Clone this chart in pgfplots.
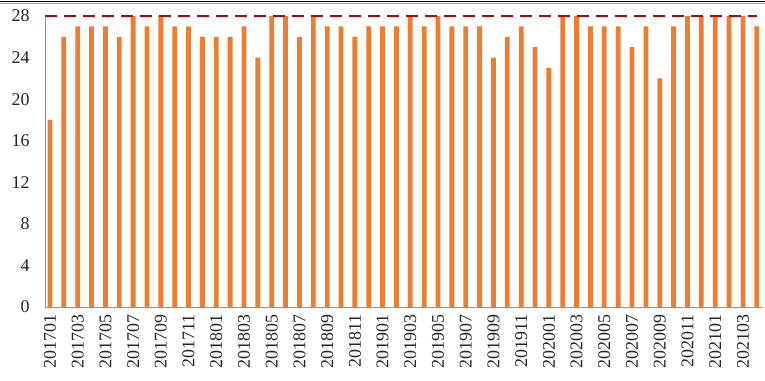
\documentclass[border=0pt]{standalone}
\usepackage{fontspec}
\setmainfont{Liberation Serif}
\usepackage{pgfplots}
\pgfplotsset{compat=1.18}
\usepackage{pgfplotstable}
\definecolor{barorange}{HTML}{ED7D31}
\definecolor{dashred}{HTML}{C00000}
\pgfplotstableread{
x y
0 18
1 26
2 27
3 27
4 27
5 26
6 28
7 27
8 28
9 27
10 27
11 26
12 26
13 26
14 27
15 24
16 28
17 28
18 26
19 28
20 27
21 27
22 26
23 27
24 27
25 27
26 28
27 27
28 28
29 27
30 27
31 27
32 24
33 26
34 27
35 25
36 23
37 28
38 28
39 27
40 27
41 27
42 25
43 27
44 22
45 27
46 28
47 28
48 28
49 28
50 28
51 27
}\datatable
\begin{document}
\begin{tikzpicture}
\begin{axis}[
  scale only axis,
  width=718bp, height=291bp,
  xmin=-0.36, xmax=51.45,
  ymin=0, ymax=28,
  axis x line*=bottom, axis y line*=left,
  axis line style={draw=gray!85, line width=0.8bp},
  ytick={0,4,...,28},
  xtick={0,2,...,50},
  xticklabels={201701,201703,201705,201707,201709,201711,201801,201803,201805,201807,201809,201811,201901,201903,201905,201907,201909,201911,202001,202003,202005,202007,202009,202011,202101,202103},
  major tick length=0pt,
  tick style={draw=none},
  /pgf/number format/assume math mode=true,
  ticklabel style={font=\fontsize{18}{20}\selectfont, text=black!85},
  xticklabel style={rotate=90, anchor=east, xshift=-4bp},
  yticklabel style={xshift=-12bp},
  clip=false,
]
\addplot[ybar, bar width=4.8bp, fill=barorange, draw=none] table[x=x,y=y]{\datatable};
\addplot[dashred, line width=2.4bp, dash pattern=on 12bp off 7bp, mark=none] coordinates {(-0.36,28) (51,28)};
\coordinate (bl) at (rel axis cs:0,0);
\coordinate (tr) at (rel axis cs:1,1);
\end{axis}
\useasboundingbox ([shift={(-45bp,-74bp)}]bl) rectangle ([shift={(2bp,16bp)}]tr);
\draw[black, line width=1.3bp] ([shift={(-45bp,14.6bp)}]bl |- tr) -- ([shift={(2bp,14.6bp)}]tr);
\draw[gray!70, line width=0.7bp] ([shift={(-45bp,12.6bp)}]bl |- tr) -- ([shift={(2bp,12.6bp)}]tr);
\end{tikzpicture}
\end{document}
